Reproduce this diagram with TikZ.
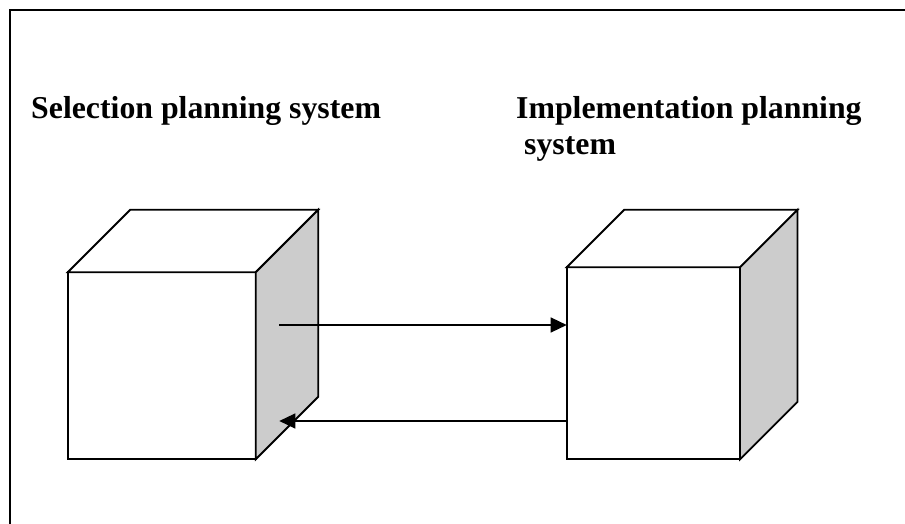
\documentclass[tikz,border=0pt]{standalone}
\usepackage{fontspec}
\setmainfont{Liberation Serif}
\usetikzlibrary{arrows.meta,calc}
\begin{document}
\begin{tikzpicture}[x=1pt,y=-1pt,
  face/.style={draw=black, line width=1.8pt, line join=miter},
  front/.style={face, fill=white, inner sep=0pt, outer sep=0pt},
  sideface/.style={face, fill=gray!40},
  topface/.style={face, fill=white},
  lbl/.style={font=\fontsize{31.8}{36}\selectfont\bfseries, inner sep=0pt, anchor=base west},
  conn/.style={line width=1.4pt, -{Triangle[length=16pt,width=15pt]}},
  frameline/.style={line width=2pt}]
\useasboundingbox (0,0) rectangle (905,524);
\fill[white] (0,0) rectangle (905,524);
\draw[frameline] (905,10) -- (10,10) -- (10,524);
\node[lbl] (selT) at (31,119) {Selection planning system};
\node[lbl] (impT1) at (516,119) {Implementation planning};
\node[lbl] (impT2) at (524,155) {system};
% left cube
\node[front, minimum width=188pt, minimum height=187pt] (L) at (161.7,365.8) {};
\draw[topface] (L.north west) -- ++(62.5,-62.5) -- ++(188,0) -- (L.north east) -- cycle;
\draw[sideface] (L.north east) -- ++(62.5,-62.5) -- ++(0,187) -- (L.south east) -- cycle;
% right cube
\node[front, minimum width=173.3pt, minimum height=192pt] (R) at (653.35,363.3) {};
\draw[topface] (R.north west) -- ++(57.5,-57.5) -- ++(173.3,0) -- (R.north east) -- cycle;
\draw[sideface] (R.north east) -- ++(57.5,-57.5) -- ++(0,192) -- (R.south east) -- cycle;
% connectors
\coordinate (a1s) at (279.3,325);
\coordinate (a2e) at (279.3,421);
\draw[conn] (a1s) -- (a1s -| R.west);
\draw[conn] (a2e -| R.west) -- (a2e);
\end{tikzpicture}
\end{document}
